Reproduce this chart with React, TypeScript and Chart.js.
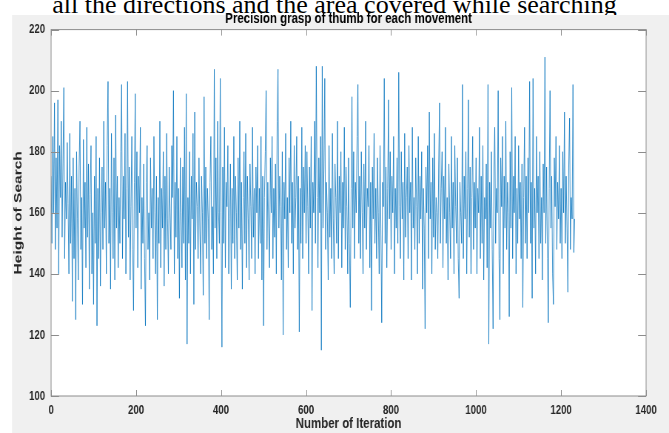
import React, { useEffect, useRef } from "react";
import { Chart, registerables } from "chart.js";

Chart.register(...registerables);

const CAPTION = "all the directions and the area covered while searching";
const TITLE = "Precision grasp of thumb for each movement";
const X_LABEL = "Number of Iteration";
const Y_LABEL = "Height of Search";

const X_MIN = 0;
const X_MAX = 1400;
const X_STEP = 200;
const Y_MIN = 100;
const Y_MAX = 220;
const Y_STEP = 20;

const ITERATION_STEP = 2;

// Height of search (one value every ITERATION_STEP iterations)
const HEIGHTS = [
  172, 150, 185, 160, 196, 148, 178, 155, 197, 140, 182, 165, 190, 152, 176, 201, 145, 170, 158, 183,
  163, 140, 186, 150, 172, 131, 178, 145, 168, 125, 180, 158, 138, 175, 190, 148, 165, 130, 184, 155,
  170, 142, 188, 152, 176, 135, 166, 182, 140, 160, 130, 172, 150, 185, 123, 168, 145, 178, 136, 160,
  175, 148, 190, 155, 170, 140, 182, 203, 150, 168, 135, 186, 160, 145, 178, 138, 192, 155, 172, 142,
  165, 150, 180, 202, 145, 172, 158, 186, 140, 168, 203, 152, 175, 138, 162, 185, 148, 128, 170, 199,
  155, 180, 142, 172, 160, 188, 135, 165, 150, 176, 145, 123, 170, 182, 148, 160, 138, 178, 155, 168,
  145, 185, 160, 140, 172, 125, 165, 150, 190, 142, 168, 155, 180, 136, 172, 148, 186, 158, 140, 175,
  160, 148, 182, 165, 200, 140, 170, 152, 185, 145, 168, 132, 178, 160, 142, 175, 150, 188, 138, 199,
  117, 165, 150, 180, 140, 172, 158, 186, 130, 193, 148, 170, 162, 145, 178, 155, 140, 172, 160, 133,
  198, 150, 175, 145, 168, 158, 125, 170, 185, 148, 162, 140, 207, 155, 178, 145, 190, 160, 150, 204,
  160, 116, 175, 150, 188, 142, 170, 162, 182, 140, 158, 176, 135, 168, 150, 185, 145, 172, 160, 138,
  178, 155, 190, 148, 170, 135, 165, 180, 150, 186, 142, 172, 158, 138, 176, 162, 145, 188, 152, 168,
  140, 175, 160, 182, 145, 168, 150, 185, 138, 172, 123, 165, 180, 200, 148, 170, 155, 142, 178, 160,
  185, 145, 168, 152, 176, 140, 190, 207, 155, 172, 162, 138, 180, 120, 170, 158, 186, 148, 165, 142,
  178, 160, 190, 150, 170, 140, 182, 155, 165, 185, 148, 172, 121, 168, 150, 188, 145, 175, 160, 182,
  150, 180, 162, 140, 175, 155, 185, 128, 170, 160, 190, 150, 208, 165, 142, 178, 160, 185, 115, 208,
  155, 175, 204, 148, 170, 160, 138, 182, 152, 168, 145, 186, 158, 140, 176, 165, 150, 190, 145, 172,
  160, 180, 142, 170, 155, 188, 148, 175, 162, 140, 178, 150, 129, 168, 198, 155, 180, 145, 170, 160,
  185, 202, 150, 172, 145, 180, 160, 140, 176, 155, 190, 148, 168, 162, 182, 142, 170, 128, 175, 158,
  186, 150, 168, 145, 178, 160, 140, 182, 155, 124, 170, 162, 204, 150, 175, 142, 168, 197, 158, 180,
  148, 172, 160, 185, 140, 168, 155, 178, 150, 206, 162, 145, 180, 158, 170, 138, 186, 152, 165, 175,
  145, 182, 160, 170, 138, 188, 155, 165, 148, 178, 162, 140, 185, 150, 172, 158, 180, 135, 168, 155,
  122, 175, 160, 182, 145, 193, 158, 170, 140, 178, 152, 186, 148, 165, 160, 145, 175, 196, 150, 168,
  180, 142, 172, 158, 188, 150, 165, 138, 176, 160, 145, 185, 155, 170, 140, 182, 162, 150, 178, 145,
  132, 170, 160, 150, 202, 145, 172, 158, 180, 140, 168, 197, 152, 175, 140, 165, 185, 148, 170, 155,
  178, 140, 168, 160, 188, 145, 172, 150, 182, 138, 165, 158, 176, 142, 202, 117, 170, 155, 180, 148,
  122, 175, 188, 150, 168, 160, 200, 145, 125, 178, 162, 185, 140, 172, 155, 190, 148, 170, 160, 126,
  180, 155, 201, 145, 172, 160, 185, 140, 168, 150, 182, 158, 170, 145, 176, 129, 165, 188, 150, 172,
  145, 178, 160, 203, 150, 170, 132, 204, 155, 168, 140, 185, 160, 172, 145, 180, 150, 165, 138, 176,
  160, 211, 150, 175, 145, 124, 168, 200, 155, 172, 140, 130, 178, 162, 185, 148, 170, 158, 182, 150,
  168, 145, 180, 160, 193, 150, 172, 155, 134, 175, 191, 148, 165, 158, 202, 147, 158,
];

const ITERATIONS = HEIGHTS.map((_, i) => i * ITERATION_STEP);

// page geometry (the reference picture is horizontally squeezed)
const PAGE_W = 669;
const PAGE_H = 433;
const SQUEEZE = 0.74;
const DRAW_W = Math.round(PAGE_W / SQUEEZE);
const K = DRAW_W / PAGE_W;

const FONT = "'Liberation Sans', Arial, Helvetica, sans-serif";

const matlabBox = {
  id: "matlabBox",
  beforeDraw(chart: any) {
    const { ctx, chartArea: a } = chart;
    ctx.save();
    ctx.fillStyle = "#f0f0f0";
    ctx.fillRect(12 * K, 15, chart.width, chart.height);
    ctx.fillStyle = "#ffffff";
    ctx.fillRect(a.left, a.top, a.right - a.left, a.bottom - a.top);
    ctx.restore();
  },
  afterDatasetsDraw(chart: any) {
    const { ctx, chartArea: a, scales } = chart;
    ctx.save();
    ctx.strokeStyle = "#8c8c8c";
    ctx.lineWidth = 1;
    ctx.beginPath();
    const xs = scales.x;
    xs.ticks.forEach((t: any) => {
      const px = Math.round(xs.getPixelForValue(t.value)) + 0.5;
      ctx.moveTo(px, a.bottom);
      ctx.lineTo(px, a.bottom - 6);
      ctx.moveTo(px, a.top);
      ctx.lineTo(px, a.top + 6);
    });
    const ys = scales.y;
    ys.ticks.forEach((t: any) => {
      const py = Math.round(ys.getPixelForValue(t.value)) + 0.5;
      ctx.moveTo(a.left, py);
      ctx.lineTo(a.left + 8 * K, py);
      ctx.moveTo(a.right, py);
      ctx.lineTo(a.right - 8 * K, py);
    });
    ctx.stroke();
    ctx.strokeRect(a.left, a.top, a.right - a.left, a.bottom - a.top);
    ctx.restore();
  },
};

export default function App() {
  const canvasRef = useRef<HTMLCanvasElement | null>(null);

  useEffect(() => {
    document.body.style.margin = "0";
    const canvas = canvasRef.current;
    if (!canvas) return;
    const chart = new Chart(canvas, {
      type: "line",
      data: {
        datasets: [
          {
            data: ITERATIONS.map((x, i) => ({ x, y: HEIGHTS[i] })),
            borderColor: "rgba(0, 114, 189, 0.75)",
            borderWidth: 1,
            pointRadius: 0,
            tension: 0,
            fill: false,
          },
        ],
      },
      options: {
        responsive: false,
        animation: false,
        devicePixelRatio: 1,
        layout: { padding: { left: 8, right: 31, top: 0, bottom: 0 } },
        plugins: {
          legend: { display: false },
          tooltip: { enabled: false },
          title: {
            display: true,
            fullSize: false,
            text: TITLE,
            color: "#000000",
            font: { family: FONT, size: 15.5, weight: "bold" },
            padding: { top: 9, bottom: 2 },
          },
        },
        scales: {
          x: {
            type: "linear",
            min: X_MIN,
            max: X_MAX,
            grid: { display: false, drawTicks: false },
            border: { display: false },
            ticks: {
              stepSize: X_STEP,
              color: "#262626",
              padding: 7,
              maxRotation: 0,
              font: { family: FONT, size: 13, weight: "bold" },
              callback: (v: any) => String(v),
            },
            title: {
              display: true,
              text: X_LABEL,
              color: "#262626",
              font: { family: FONT, size: 15.5, weight: "bold" },
              padding: { top: 0, bottom: 0 },
            },
            afterFit: (s: any) => {
              s.height = 37;
            },
          },
          y: {
            type: "linear",
            min: Y_MIN,
            max: Y_MAX,
            grid: { display: false, drawTicks: false },
            border: { display: false },
            ticks: {
              stepSize: Y_STEP,
              color: "#262626",
              padding: 8,
              font: { family: FONT, size: 13, weight: "bold" },
              callback: (v: any) => String(v),
            },
            title: {
              display: true,
              text: Y_LABEL,
              color: "#262626",
              font: { family: FONT, size: 15.5, weight: "bold" },
              padding: { top: 7, bottom: 0 },
            },
            afterFit: (s: any) => {
              s.width = 61;
            },
          },
        },
      },
      plugins: [matlabBox],
    });
    return () => chart.destroy();
  }, []);

  return (
    <div
      style={{
        position: "absolute",
        left: 0,
        top: 0,
        width: PAGE_W,
        height: PAGE_H,
        background: "#ffffff",
        overflow: "hidden",
      }}
    >
      <div
        style={{
          position: "absolute",
          left: 0,
          top: -8,
          width: PAGE_W,
          textAlign: "center",
          fontFamily: "'Liberation Serif', 'Times New Roman', serif",
          fontSize: 26,
          lineHeight: "26px",
          color: "#000",
          whiteSpace: "nowrap",
        }}
      >
        {CAPTION}
      </div>
      <canvas
        ref={canvasRef}
        width={DRAW_W}
        height={PAGE_H}
        style={{
          position: "absolute",
          left: 0,
          top: 0,
          width: PAGE_W,
          height: PAGE_H,
          display: "block",
        }}
      />
    </div>
  );
}
